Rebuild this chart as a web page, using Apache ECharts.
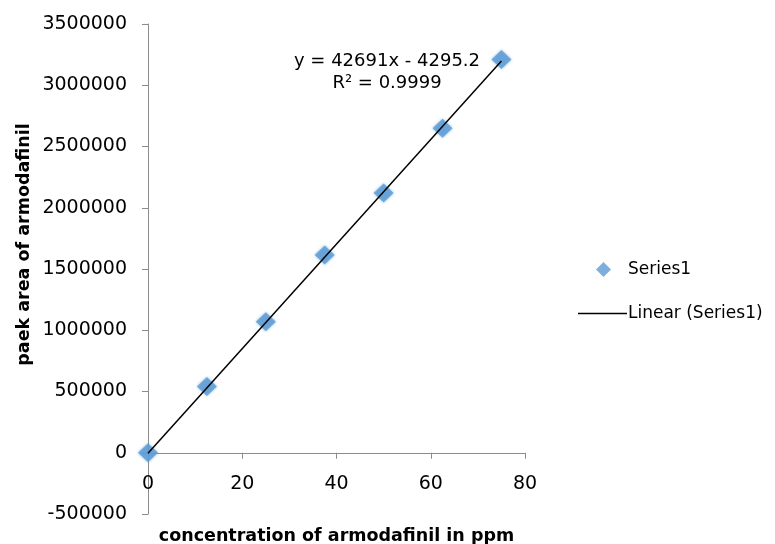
<!DOCTYPE html>
<html><head><meta charset="utf-8">
<script src="https://cdn.jsdelivr.net/npm/echarts@6/dist/echarts.min.js"></script>
<style>html,body{margin:0;padding:0;background:#fff}#c{width:775px;height:544px}</style>
</head><body><div id="c"></div>
<script>
const concentration = [0, 12.5, 25, 37.5, 50, 62.5, 75];
const peakArea = [0, 540000, 1070000, 1615000, 2120000, 2650000, 3210000];
const trendX = [0, 75];
const trendY = [-4295.2, 3197530];
const equationText = ['y = 42691x - 4295.2', 'R\u00b2 = 0.9999'];
const xTicks = {min: 0, max: 80, interval: 20};
const yTicks = {min: -500000, max: 3500000, interval: 500000};

const FONT = 'DejaVu Sans';
const chart = echarts.init(document.getElementById('c'), null, {renderer: 'canvas'});
const axisGray = '#8c8c8c';
chart.setOption({
  animation: false,
  backgroundColor: '#fff',
  title: {
    text: equationText.join('\n'),
    left: 382, top: 45, textAlign: 'center',
    textStyle: {fontFamily: FONT, fontSize: 18, fontWeight: 'normal', color: '#000', lineHeight: 22}
  },
  legend: [
    {data: [{name: 'Series1', icon: 'diamond'}], left: 591, top: 256, orient: 'vertical',
     itemWidth: 15, itemHeight: 15, itemGap: 0,
     textStyle: {fontFamily: FONT, fontSize: 17, color: '#000', padding: [0,0,0,12]}},
    {data: [{name: 'Linear (Series1)', icon: 'rect', itemStyle: {color: '#000'}}], left: 573, top: 300, orient: 'vertical',
     itemWidth: 49, itemHeight: 1.5, itemGap: 0,
     textStyle: {fontFamily: FONT, fontSize: 17, color: '#000', padding: [0,0,0,-4]}}
  ],
  grid: {left: 148, right: 250, top: 24, bottom: 30, containLabel: false, outerBoundsMode: 'none'},
  xAxis: {
    type: 'value', min: xTicks.min, max: xTicks.max, interval: xTicks.interval,
    name: 'concentration of armodafinil in ppm', nameLocation: 'middle', nameGap: 13,
    nameTextStyle: {fontFamily: FONT, fontWeight: 'bold', fontSize: 17.5, color: '#000'},
    axisLine: {onZero: true, lineStyle: {color: axisGray, width: 1}},
    axisTick: {inside: false, length: 6, lineStyle: {color: axisGray}},
    axisLabel: {fontFamily: FONT, fontSize: 19, color: '#000', margin: -39},
    splitLine: {show: false}
  },
  yAxis: {
    type: 'value', min: yTicks.min, max: yTicks.max, interval: yTicks.interval,
    name: 'paek area of armodafinil', nameLocation: 'middle', nameGap: 115,
    nameTextStyle: {fontFamily: FONT, fontWeight: 'bold', fontSize: 17.5, color: '#000', padding: [0,0,0,49]},
    axisLine: {show: true, lineStyle: {color: axisGray, width: 1}},
    axisTick: {show: true, length: 6, lineStyle: {color: axisGray}},
    axisLabel: {fontFamily: FONT, fontSize: 19, color: '#000', margin: 21, formatter: v => String(v)},
    splitLine: {show: false}
  },
  series: [
    {
      name: 'Linear (Series1)', type: 'line', symbol: 'none', z: 3,
      data: trendX.map((x, i) => [x, trendY[i]]),
      lineStyle: {color: '#000', width: 1.5}, itemStyle: {color: '#000'}
    },
    {
      name: 'Series1', type: 'scatter', symbol: 'diamond', symbolSize: [20, 19], z: 2,
      data: concentration.map((x, i) => [x, peakArea[i]]),
      itemStyle: {color: '#5b9bd5', shadowBlur: 3, shadowColor: 'rgba(91,155,213,0.8)'}
    }
  ]
});
</script></body></html>
